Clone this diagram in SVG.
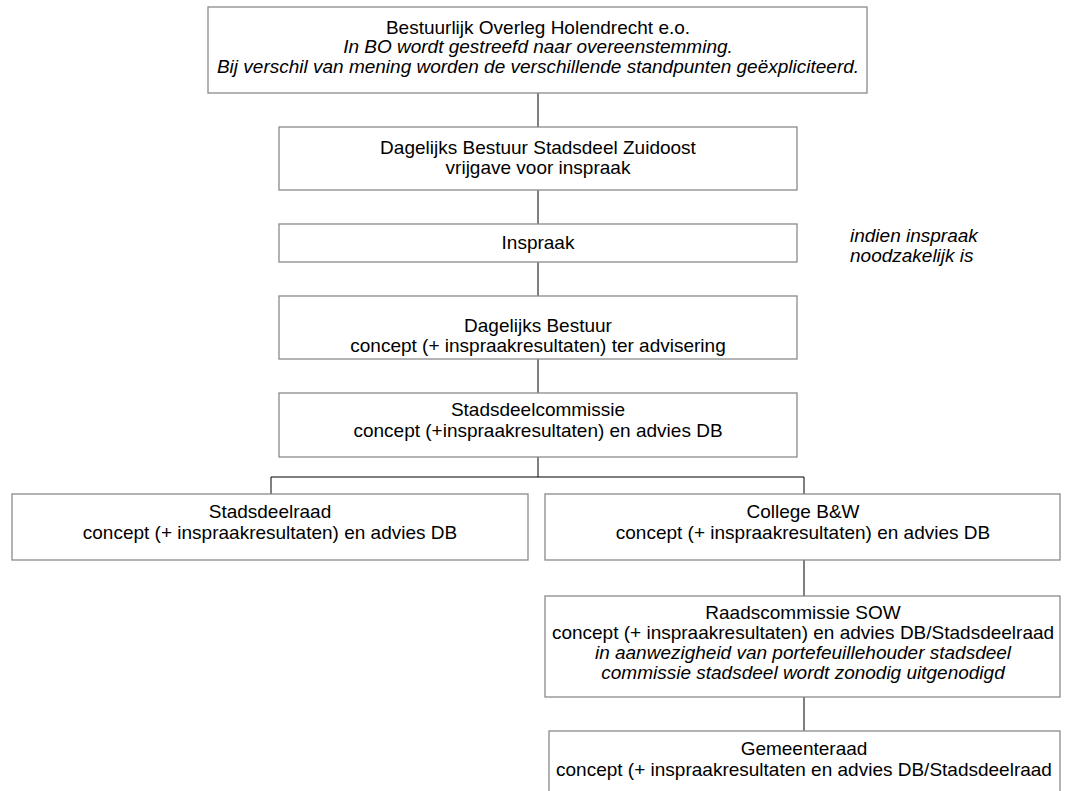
<svg xmlns="http://www.w3.org/2000/svg" width="1069" height="791" viewBox="0 0 1069 791">
<style>
.box{fill:#fff;stroke:#8a8a8a;stroke-width:1.3}
.t{font-family:"Liberation Sans",Arial,sans-serif;font-size:19px;fill:#000;text-anchor:middle}
.i{font-style:italic}
.c{stroke:#000;stroke-width:1;fill:none}
</style>
<rect width="1069" height="791" fill="#fff"/>
<g id="connectors">
<line class="c" x1="538" y1="93" x2="538" y2="127"/>
<line class="c" x1="538" y1="190" x2="538" y2="224"/>
<line class="c" x1="538" y1="262" x2="538" y2="296"/>
<line class="c" x1="538" y1="359" x2="538" y2="393"/>
<polyline class="c" points="538,457 538,477"/>
<polyline class="c" points="271,494 271,477 804,477 804,494"/>
<line class="c" x1="804" y1="560" x2="804" y2="596"/>
<line class="c" x1="804" y1="697" x2="804" y2="731"/>
</g>
<g id="n1">
<rect class="box" x="208" y="7" width="659" height="86"/>
<text class="t" x="538" y="34">Bestuurlijk Overleg Holendrecht e.o.</text>
<text class="t i" x="538" y="53">In BO wordt gestreefd naar overeenstemming.</text>
<text class="t i" x="538" y="73">Bij verschil van mening worden de verschillende standpunten geëxpliciteerd.</text>
</g>
<g id="n2">
<rect class="box" x="279" y="127" width="518" height="63"/>
<text class="t" x="538" y="154">Dagelijks Bestuur Stadsdeel Zuidoost</text>
<text class="t" x="538" y="174">vrijgave voor inspraak</text>
</g>
<g id="n3">
<rect class="box" x="279" y="224" width="518" height="38"/>
<text class="t" x="538" y="249">Inspraak</text>
</g>
<g id="note">
<text class="t i" x="850" y="242" style="text-anchor:start">indien inspraak</text>
<text class="t i" x="850" y="262" style="text-anchor:start">noodzakelijk is</text>
</g>
<g id="n4">
<rect class="box" x="279" y="296" width="518" height="63"/>
<text class="t" x="538" y="332">Dagelijks Bestuur</text>
<text class="t" x="538" y="352">concept (+ inspraakresultaten) ter advisering</text>
</g>
<g id="n5">
<rect class="box" x="279" y="393" width="518" height="64"/>
<text class="t" x="538" y="416">Stadsdeelcommissie</text>
<text class="t" x="538" y="437">concept (+inspraakresultaten) en advies DB</text>
</g>
<g id="n6">
<rect class="box" x="12" y="494" width="516" height="66"/>
<text class="t" x="270" y="518">Stadsdeelraad</text>
<text class="t" x="270" y="539">concept (+ inspraakresultaten) en advies DB</text>
</g>
<g id="n7">
<rect class="box" x="545" y="494" width="515" height="66"/>
<text class="t" x="803" y="518">College B&amp;W</text>
<text class="t" x="803" y="539">concept (+ inspraakresultaten) en advies DB</text>
</g>
<g id="n8">
<rect class="box" x="545" y="596" width="515" height="101"/>
<text class="t" x="803" y="619">Raadscommissie SOW</text>
<text class="t" x="803" y="639">concept (+ inspraakresultaten) en advies DB/Stadsdeelraad</text>
<text class="t i" x="803" y="659">in aanwezigheid van portefeuillehouder stadsdeel</text>
<text class="t i" x="803" y="679">commissie stadsdeel wordt zonodig uitgenodigd</text>
</g>
<g id="n9">
<rect class="box" x="549" y="731" width="511" height="70"/>
<text class="t" x="804" y="755">Gemeenteraad</text>
<text class="t" x="804" y="776">concept (+ inspraakresultaten en advies DB/Stadsdeelraad</text>
</g>
</svg>
